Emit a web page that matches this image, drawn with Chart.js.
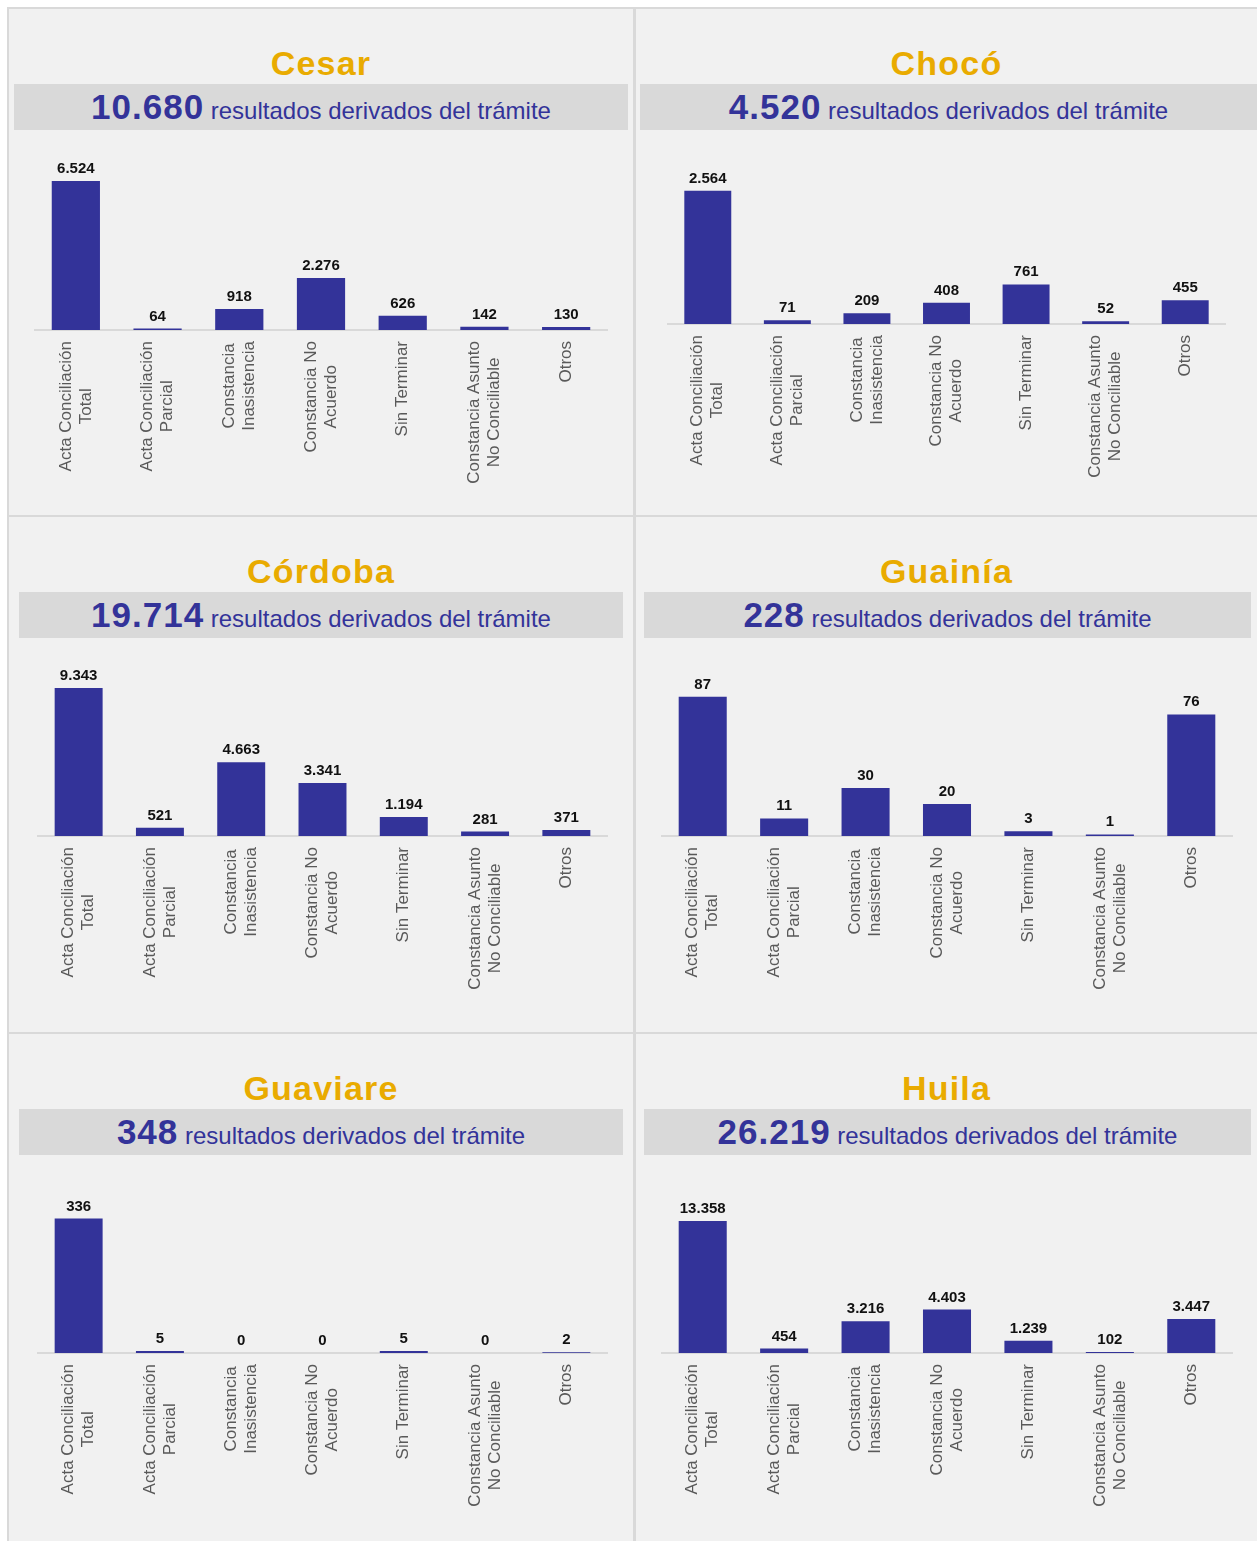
<!DOCTYPE html>
<html>
<head>
<meta charset="utf-8">
<script src="https://cdn.jsdelivr.net/npm/chart.js@4.4.1/dist/chart.umd.min.js"></script>
<style>
  html, body { margin: 0; padding: 0; background: #ffffff; }
  body { width: 1257px; height: 1541px; position: relative; overflow: hidden; font-family: "Liberation Sans", Arial, sans-serif; }
  #frame { position: absolute; left: 7px; top: 7px; width: 1252px; height: 1536px; background: #d9d9d9; }
  .panel { position: absolute; background: #f1f1f1; }
  .title { position: absolute; left: 0; right: 0; top: 34px; height: 40px; line-height: 40px; text-align: center;
           font-size: 34px; font-weight: bold; color: #E9AB00; white-space: nowrap; letter-spacing: 1.2px; }
  .band { position: absolute; top: 75px; height: 46px; line-height: 46px; background: #d9d9d9; text-align: center;
          color: #333399; font-size: 24px; white-space: nowrap; }
  .band b { font-size: 35px; font-weight: bold; letter-spacing: 1px; }
  canvas { position: absolute; left: 0; top: 140px; }
</style>
</head>
<body>
<div id="frame"></div>
<div id="root"></div>
<script>
// ---- data ----
const categories = [
  ["Acta Conciliación", "Total"],
  ["Acta Conciliación", "Parcial"],
  ["Constancia", "Inasistencia"],
  ["Constancia No", "Acuerdo"],
  ["Sin Terminar"],
  ["Constancia Asunto", "No Conciliable"],
  ["Otros"]
];
const regions = ["Cesar", "Chocó", "Córdoba", "Guainía", "Guaviare", "Huila"];
const totals = [10680, 4520, 19714, 228, 348, 26219];
const cesar    = [6524, 64, 918, 2276, 626, 142, 130];
const choco    = [2564, 71, 209, 408, 761, 52, 455];
const cordoba  = [9343, 521, 4663, 3341, 1194, 281, 371];
const guainia  = [87, 11, 30, 20, 3, 1, 76];
const guaviare = [336, 5, 0, 0, 5, 0, 2];
const huila    = [13358, 454, 3216, 4403, 1239, 102, 3447];
const seriesList = [cesar, choco, cordoba, guainia, guaviare, huila];
const axisMax = [7000, 3080, 10100, 100, 400, 16200];

// ---- layout (positions, not data) ----
const layoutCfg = [
  {x: 9,   y: 9,    w: 624, h: 506, bl: 5,  br: 5,  pl: 26, pr: 26, pt: 21},
  {x: 636, y: 9,    w: 621, h: 506, bl: 4,  br: 0,  pl: 32, pr: 32, pt: 15},
  {x: 9,   y: 517,  w: 624, h: 515, bl: 10, br: 10, pl: 29, pr: 26, pt: 19},
  {x: 636, y: 517,  w: 621, h: 515, bl: 8,  br: 6,  pl: 26, pr: 25, pt: 19},
  {x: 9,   y: 1034, w: 624, h: 507, bl: 10, br: 10, pl: 29, pr: 26, pt: 19},
  {x: 636, y: 1034, w: 621, h: 507, bl: 8,  br: 6,  pl: 26, pr: 25, pt: 19}
];
const PLOT_H = 160;
const CANVAS_H = 360;
const FONT = '"Liberation Sans", Arial, sans-serif';

function fmt(v) { return String(v).replace(/\B(?=(\d{3})+(?!\d))/g, '.'); }

const valueLabels = {
  id: 'valueLabels',
  afterDatasetsDraw(chart) {
    const ctx = chart.ctx;
    const ds = chart.data.datasets[0];
    const meta = chart.getDatasetMeta(0);
    ctx.save();
    ctx.font = 'bold 15px ' + FONT;
    ctx.fillStyle = '#111111';
    ctx.textAlign = 'center';
    ctx.textBaseline = 'alphabetic';
    meta.data.forEach((bar, i) => {
      ctx.fillText(fmt(ds.data[i]), bar.x, bar.y - 8);
    });
    ctx.restore();
  }
};

const catLabels = {
  id: 'catLabels',
  afterDraw(chart) {
    const ctx = chart.ctx;
    const xs = chart.scales.x;
    const base = chart.chartArea.bottom;
    ctx.save();
    ctx.font = '17px ' + FONT;
    ctx.fillStyle = '#595959';
    ctx.textAlign = 'center';
    ctx.textBaseline = 'middle';
    chart.data.labels.forEach((lines, i) => {
      const x = xs.getPixelForValue(i);
      const maxW = Math.max(...lines.map(l => ctx.measureText(l).width));
      ctx.save();
      ctx.translate(x, base + 11);
      ctx.rotate(-Math.PI / 2);
      lines.forEach((l, j) => {
        ctx.fillText(l, -maxW / 2, (j - (lines.length - 1) / 2) * 20);
      });
      ctx.restore();
    });
    ctx.restore();
  }
};

const root = document.getElementById('root');
regions.forEach((name, i) => {
  const L = layoutCfg[i];
  const p = document.createElement('div');
  p.className = 'panel';
  p.style.left = L.x + 'px'; p.style.top = L.y + 'px';
  p.style.width = L.w + 'px'; p.style.height = L.h + 'px';

  const t = document.createElement('div');
  t.className = 'title';
  t.textContent = name;
  p.appendChild(t);

  const band = document.createElement('div');
  band.className = 'band';
  band.style.left = L.bl + 'px'; band.style.right = L.br + 'px';
  const b = document.createElement('b');
  b.textContent = fmt(totals[i]);
  band.appendChild(b);
  band.appendChild(document.createTextNode(' resultados derivados del trámite'));
  p.appendChild(band);

  const c = document.createElement('canvas');
  c.width = L.w; c.height = CANVAS_H;
  c.style.width = L.w + 'px'; c.style.height = CANVAS_H + 'px';
  p.appendChild(c);
  root.appendChild(p);

  const xHeight = CANVAS_H - L.pt - PLOT_H;
  new Chart(c.getContext('2d'), {
    type: 'bar',
    data: {
      labels: categories,
      datasets: [{
        data: seriesList[i],
        backgroundColor: '#333399',
        borderWidth: 0,
        barPercentage: 0.59,
        categoryPercentage: 1
      }]
    },
    options: {
      responsive: false,
      animation: false,
      devicePixelRatio: 1,
      layout: { padding: { top: L.pt, left: L.pl, right: L.pr, bottom: 0 } },
      plugins: { legend: { display: false }, tooltip: { enabled: false } },
      scales: {
        x: {
          offset: true,
          grid: { display: false },
          border: { display: true, color: '#d9d9d9', width: 2 },
          ticks: { display: false },
          afterFit(scale) { scale.height = xHeight; }
        },
        y: { display: false, min: 0, max: axisMax[i] }
      }
    },
    plugins: [valueLabels, catLabels]
  });
});
</script>
</body>
</html>
